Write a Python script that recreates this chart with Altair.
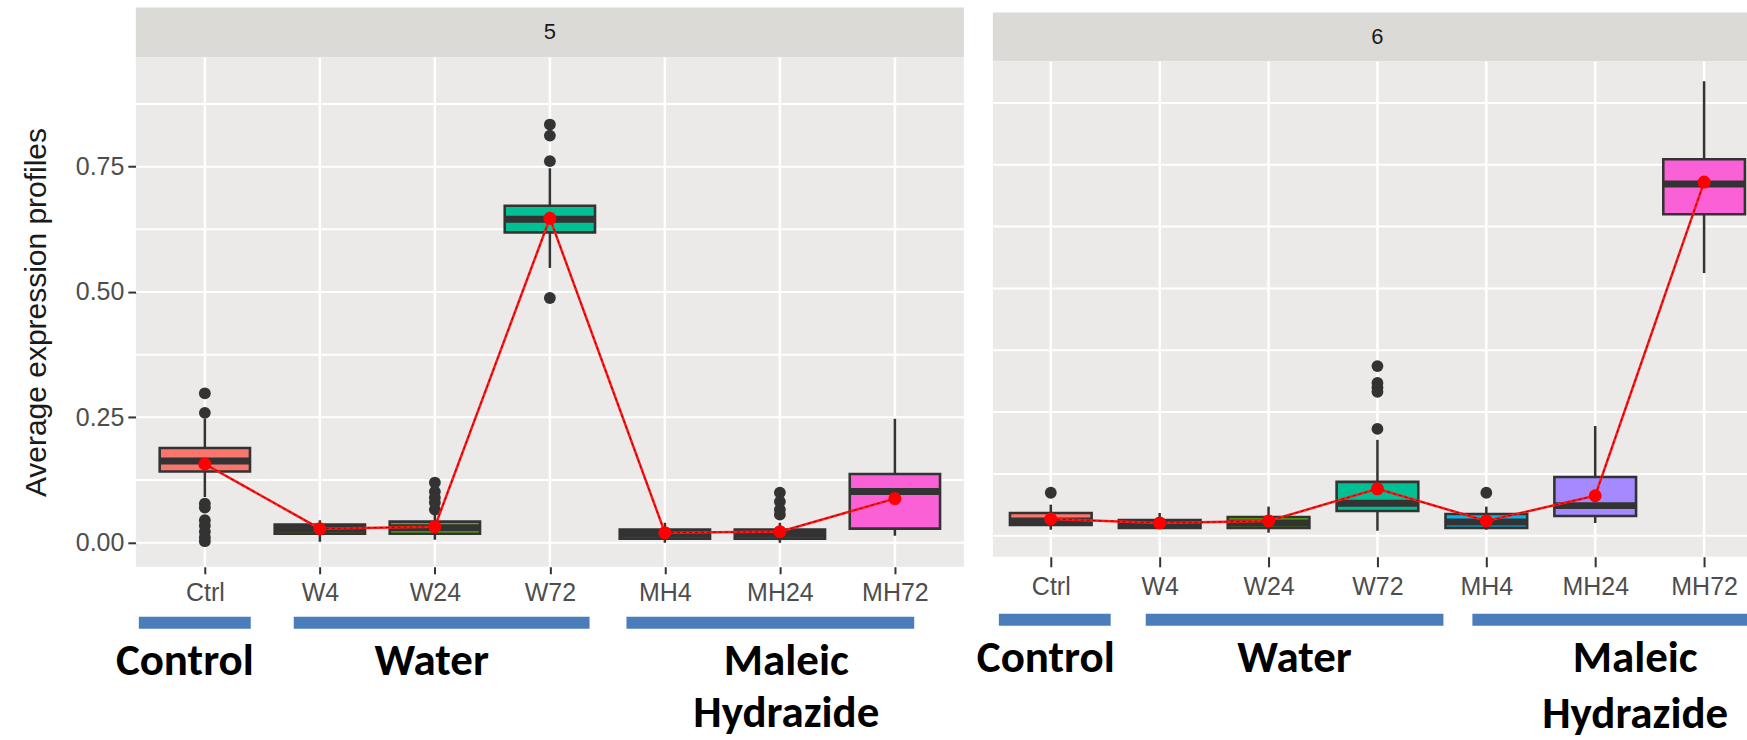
import json
import altair as alt
import pandas as pd

# ---------------- data ----------------
CATS = ["Ctrl", "W4", "W24", "W72", "MH4", "MH24", "MH72"]
FILLS = ["#F8766D", "#C49A00", "#53B400", "#00C094", "#00B6EB", "#A58AFF", "#FB61D7"]

# cluster 5
C5_LOW = [0.091, 0.002, 0.006, 0.548, 0.000, 0.000, 0.014]
C5_Q1 = [0.142, 0.018, 0.018, 0.619, 0.008, 0.008, 0.028]
C5_MED = [0.163, 0.027, 0.030, 0.645, 0.017, 0.017, 0.102]
C5_Q3 = [0.189, 0.036, 0.042, 0.672, 0.026, 0.026, 0.137]
C5_HIGH = [0.247, 0.045, 0.056, 0.747, 0.040, 0.040, 0.247]
C5_MEAN = [0.157, 0.028, 0.032, 0.647, 0.020, 0.022, 0.088]
C5_OUT_CAT = ["Ctrl", "Ctrl", "Ctrl", "Ctrl", "Ctrl", "Ctrl", "Ctrl", "Ctrl", "Ctrl",
              "W24", "W24", "W24", "W24", "W24",
              "W72", "W72", "W72", "W72",
              "MH24", "MH24", "MH24", "MH24"]
C5_OUT_VAL = [0.298, 0.259, 0.078, 0.070, 0.045, 0.034, 0.022, 0.011, 0.003,
              0.120, 0.102, 0.090, 0.080, 0.066,
              0.834, 0.812, 0.761, 0.488,
              0.100, 0.082, 0.066, 0.056]

# cluster 6
C6_LOW = [0.012, 0.014, 0.006, 0.010, 0.012, 0.026, 0.531]
C6_Q1 = [0.022, 0.016, 0.016, 0.050, 0.016, 0.040, 0.650]
C6_MED = [0.030, 0.024, 0.026, 0.066, 0.028, 0.061, 0.711]
C6_Q3 = [0.046, 0.032, 0.038, 0.109, 0.044, 0.119, 0.761]
C6_HIGH = [0.063, 0.046, 0.059, 0.194, 0.059, 0.222, 0.919]
C6_MEAN = [0.034, 0.026, 0.030, 0.095, 0.030, 0.081, 0.715]
C6_OUT_CAT = ["Ctrl", "W72", "W72", "W72", "W72", "W72", "MH4"]
C6_OUT_VAL = [0.087, 0.343, 0.309, 0.300, 0.291, 0.216, 0.087]

GRID_Y = [0.0, 0.125, 0.25, 0.375, 0.5, 0.625, 0.75, 0.875]
Y_TICKS = [0.0, 0.25, 0.5, 0.75]

GROUPS = ["Control", "Water", "Maleic Hydrazide"]

# ---------------- layout / style ----------------
PANEL_BG = "#ebeae8"
STRIP_BG = "#dcdad6"
BAR_BLUE = "#4a7dba"
DARK = "#333333"
LABEL_FONT = "Liberation Sans"
ANNOT_FONT = "Carlito, Lato, Open Sans, sans-serif"

LAYOUT = {
    "5": dict(W=829, H=510, xdom=[-0.6, 6.6], ydom=[-0.048, 0.968], bw=0.785,
              strip_top=0, strip_h=50, tick=7, lpad=7, AH=166,
              bar_y=(50, 62), rows=(108, 160), yaxis=True,
              spans=[(-0.574, 0.399), (0.773, 3.345), (3.666, 6.168)],
              text_x=[-0.174, 1.972, 5.056]),
    "6": dict(W=755, H=496, xdom=[-0.532, 6.394], ydom=[-0.0424, 0.959], bw=0.75,
              strip_top=5, strip_h=49, tick=10, lpad=8, AH=176,
              bar_y=(57, 69), rows=(115, 171), yaxis=False,
              spans=[(-0.477, 0.550), (0.872, 3.606), (3.872, 6.394)],
              text_x=[-0.046, 2.239, 5.367]),
}


def column(label, low, q1, med, q3, high, mean, out_cat, out_val):
    L = LAYOUT[label]
    W, H = L["W"], L["H"]
    xs = alt.Scale(domain=L["xdom"], nice=False, zero=False)
    ys = alt.Scale(domain=L["ydom"], nice=False, zero=False)

    x_axis = alt.Axis(values=list(range(len(CATS))),
                      labelExpr=f"{json.dumps(CATS)}[datum.value]",
                      title=None, grid=False, domain=False, ticks=True,
                      tickColor=DARK, tickWidth=2, tickSize=L["tick"],
                      labelColor="#4d4d4d", labelFont=LABEL_FONT, labelFontSize=25,
                      labelPadding=L["lpad"], labelAngle=0, labelFlush=False,
                      labelOverlap=False)
    if L["yaxis"]:
        y_axis = alt.Axis(values=Y_TICKS, format=".2f",
                          title="Average expression profiles",
                          titleFont=LABEL_FONT, titleFontSize=30,
                          titleFontWeight="normal", titleColor="#1a1a1a",
                          titlePadding=22, labelFont=LABEL_FONT, labelFontSize=25,
                          labelColor="#4d4d4d", tickColor=DARK, tickWidth=2,
                          tickSize=8, labelPadding=4, domain=False, grid=False,
                          minExtent=62, maxExtent=62)
    else:
        y_axis = None

    def X(f):
        return alt.X(f"{f}:Q", scale=xs, axis=x_axis)

    def Y(f):
        return alt.Y(f"{f}:Q", scale=ys, axis=y_axis)

    idx = list(range(len(CATS)))
    bw = L["bw"]
    box = pd.DataFrame({
        "idx": idx, "cat": CATS, "fill": FILLS,
        "low": low, "q1": q1, "med": med, "q3": q3, "high": high, "mean": mean,
    })
    box["x0"] = box["idx"] - bw / 2
    box["x1"] = box["idx"] + bw / 2
    outl = pd.DataFrame({"cat": out_cat, "val": out_val})
    outl["idx"] = outl["cat"].map({c: i for i, c in enumerate(CATS)})
    gx = pd.DataFrame({"idx": idx})
    gy = pd.DataFrame({"g": GRID_Y})

    layers = [
        alt.Chart(gx).mark_rule(color="white", strokeWidth=2.5, clip=True).encode(x=X("idx")),
        alt.Chart(gy).mark_rule(color="white", strokeWidth=2, clip=True).encode(y=Y("g")),
        alt.Chart(box).mark_rule(color=DARK, strokeWidth=2.5, clip=True).encode(
            x=X("idx"), y=Y("low"), y2="high"),
        alt.Chart(box).mark_rect(stroke=DARK, strokeWidth=2.6, clip=True).encode(
            x=X("x0"), x2="x1", y=Y("q1"), y2="q3", fill=alt.Fill("fill:N", scale=None)),
        alt.Chart(box).mark_rule(color=DARK, strokeWidth=7, clip=True).encode(
            x=X("x0"), x2="x1", y=Y("med")),
        alt.Chart(outl).mark_circle(color=DARK, size=140, opacity=1, clip=True).encode(
            x=X("idx"), y=Y("val")),
        alt.Chart(box).mark_line(color="#ff1a1a", strokeWidth=2.5, clip=True).encode(
            x=X("idx"), y=Y("mean")),
        alt.Chart(box).mark_line(color="#a30000", strokeWidth=1, strokeDash=[3, 3], clip=True).encode(
            x=X("idx"), y=Y("mean")),
        alt.Chart(box).mark_circle(color="#ff0000", size=170, opacity=1, clip=True).encode(
            x=X("idx"), y=Y("mean")),
    ]
    panel = alt.layer(*layers).properties(
        width=W, height=H, view=alt.ViewBackground(fill=PANEL_BG, stroke=None))

    # facet strip
    st, sh = L["strip_top"], L["strip_h"]
    sdf = pd.DataFrame({"label": [label], "pos": [(len(CATS) - 1) / 2]})
    strip = alt.layer(
        alt.Chart(sdf).mark_rect(color=STRIP_BG).encode(
            x=alt.value(0), x2=alt.value(W), y=alt.value(st), y2=alt.value(st + sh)),
        alt.Chart(sdf).mark_text(font=LABEL_FONT, fontSize=22, color="#1a1a1a",
                                 baseline="middle", align="center").encode(
            x=alt.X("pos:Q", scale=xs, axis=None), y=alt.value(st + sh / 2),
            text="label:N"),
    ).properties(width=W, height=st + sh)

    # group annotation below
    spans = L["spans"]
    bdf = pd.DataFrame({"group": GROUPS,
                        "start": [s[0] for s in spans],
                        "end": [s[1] for s in spans]})
    tx = L["text_x"]
    words = []
    for g, x in zip(GROUPS, tx):
        for r, w in enumerate(g.split(" ")):
            words.append({"word": w, "x": x, "row": r})
    tdf = pd.DataFrame(words)
    b0, b1 = L["bar_y"]
    r0, r1 = L["rows"]
    annot = alt.layer(
        alt.Chart(bdf).mark_rect(color=BAR_BLUE, clip=True).encode(
            x=alt.X("start:Q", scale=xs, axis=None), x2="end",
            y=alt.value(b0), y2=alt.value(b1)),
        alt.Chart(tdf).mark_text(font=ANNOT_FONT, fontSize=45, fontWeight="bold",
                                 color="black", align="center",
                                 baseline="alphabetic").encode(
            x=alt.X("x:Q", scale=xs, axis=None),
            y=alt.Y("row:Q", scale=alt.Scale(domain=[0, 1], range=[r0, r1]), axis=None),
            text="word:N"),
    ).properties(width=W, height=L["AH"])

    return alt.vconcat(strip, panel, annot, spacing=0, bounds="flush").resolve_scale(
        x="independent", y="independent")


col5 = column("5", C5_LOW, C5_Q1, C5_MED, C5_Q3, C5_HIGH, C5_MEAN, C5_OUT_CAT, C5_OUT_VAL)
col6 = column("6", C6_LOW, C6_Q1, C6_MED, C6_Q3, C6_HIGH, C6_MEAN, C6_OUT_CAT, C6_OUT_VAL)

chart = alt.hconcat(col5, col6, spacing=12).resolve_scale(
    x="independent", y="independent"
).properties(
    padding={"left": 22, "top": 7, "right": 0, "bottom": 0},
    background="white",
).configure_view(stroke=None)

chart.save("out.html", embed_options={"renderer": "svg", "actions": False})
